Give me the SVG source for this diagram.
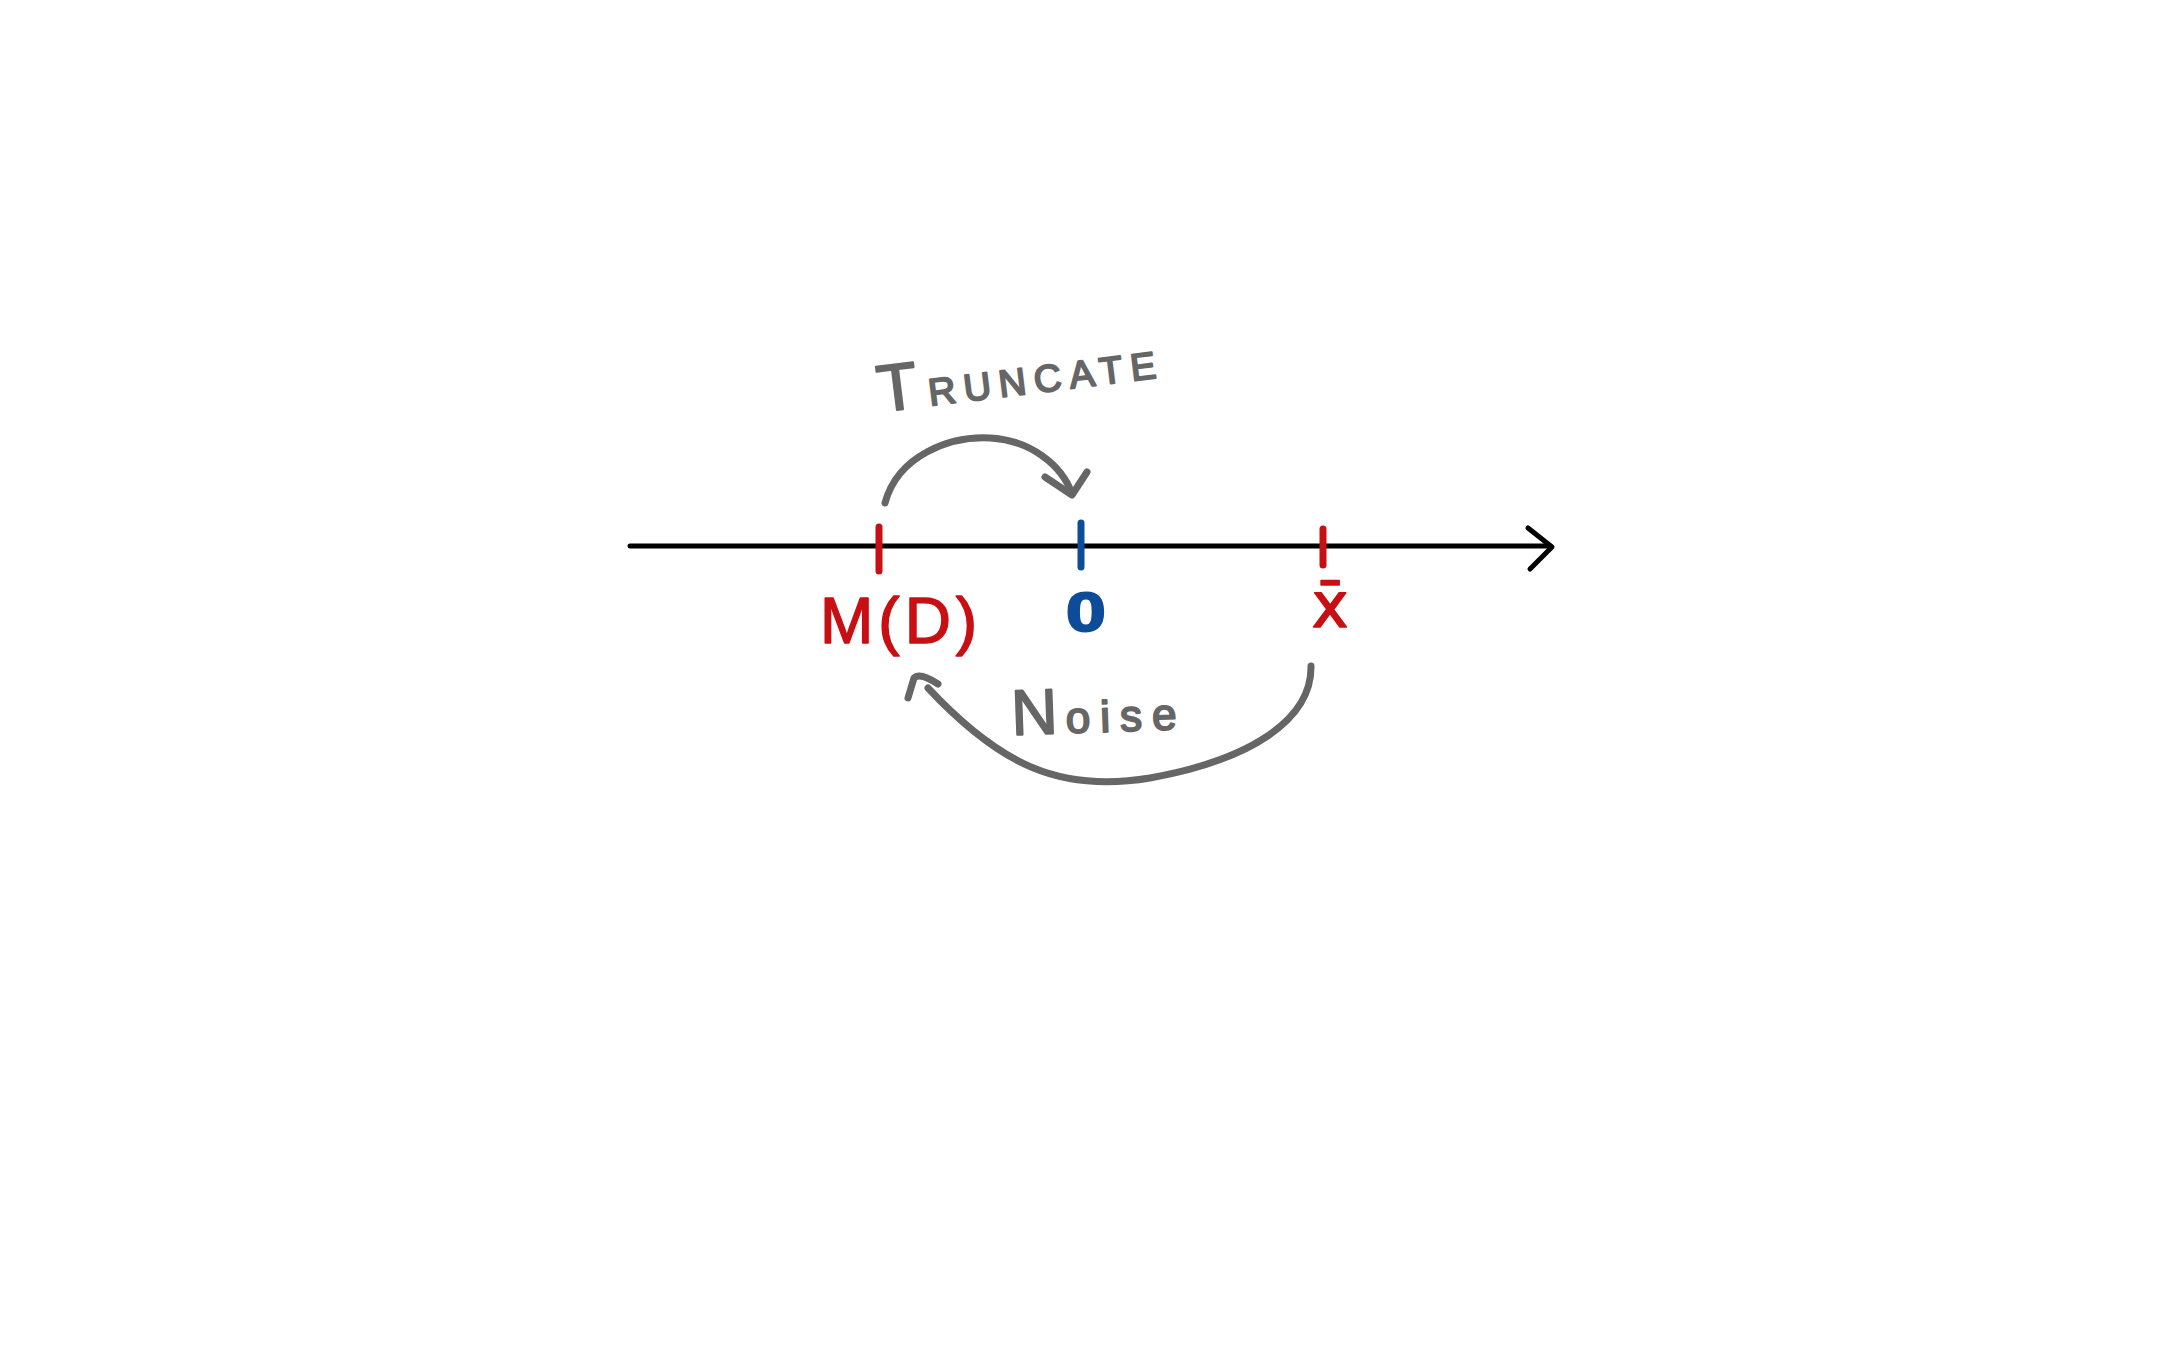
<svg xmlns="http://www.w3.org/2000/svg" width="2160" height="1350" viewBox="0 0 2160 1350">
  <style>
    .axis { stroke: #000; stroke-width: 5; fill: none; stroke-linecap: round; stroke-linejoin: round; }
    .tick { stroke-width: 7; stroke-linecap: round; fill: none; }
    .red { stroke: #c80f14; }
    .blue { stroke: #0c4c98; }
    .arc { stroke: #666; stroke-width: 7; fill: none; stroke-linecap: round; stroke-linejoin: round; }
    .gtext { fill: #666; stroke: #666; stroke-width: 2; stroke-linejoin: round; font-family: "Liberation Sans", Arial, sans-serif; }
    .rtext { fill: #c80f14; stroke: #c80f14; stroke-width: 1.5; stroke-linejoin: round; font-family: "Liberation Sans", Arial, sans-serif; }
    .btext { fill: #0c4c98; stroke: #0c4c98; stroke-width: 2; stroke-linejoin: round; font-family: "Liberation Sans", Arial, sans-serif; font-weight: bold; }
  </style>
  <rect width="2160" height="1350" fill="#fff"/>

  <g id="axis">
    <line class="axis" x1="630" y1="546" x2="1550" y2="546"/>
    <polyline class="axis" stroke-width="6" points="1528,528 1552,547 1530,569"/>
  </g>

  <g id="node-md">
    <line class="tick red" x1="879" y1="527" x2="879" y2="571"/>
    <text class="rtext" x="820" y="643" font-size="64" letter-spacing="5">M(D)</text>
  </g>

  <g id="node-zero">
    <line class="tick blue" x1="1081" y1="523" x2="1081" y2="567"/>
    <text class="btext" transform="translate(1086,631) scale(1.3,1)" x="0" y="0" font-size="55" text-anchor="middle">0</text>
  </g>

  <g id="node-xbar">
    <line class="tick red" x1="1323" y1="529" x2="1323" y2="565"/>
    <text class="rtext" x="1330" y="627" font-size="62" text-anchor="middle" style="font-family: 'DejaVu Sans', sans-serif;">x̄</text>
  </g>

  <g id="connectors">
    <g id="edge-truncate">
      <path class="arc" d="M885,503 C898,455 950,436 990,438 C1030,440 1062,465 1072,494"/>
      <polyline class="arc" points="1045,477 1072,495 1087,472"/>
      <text class="gtext" transform="rotate(-7 880 412)" x="880" y="412"><tspan font-size="66">T</tspan><tspan font-size="38" dx="10" letter-spacing="8">RUNCATE</tspan></text>
    </g>
    <g id="edge-noise">
      <path class="arc" d="M1311,666 C1312,720 1250,760 1150,778 C1060,793 1000,765 928,688"/>
      <path class="arc" d="M908,698 L914,678 Q920,672 938,684"/>
      <text class="gtext" transform="rotate(-2 1012 735)" x="1012" y="735"><tspan font-size="64">N</tspan><tspan font-size="44" dx="8" letter-spacing="10">oise</tspan></text>
    </g>
  </g>
</svg>
